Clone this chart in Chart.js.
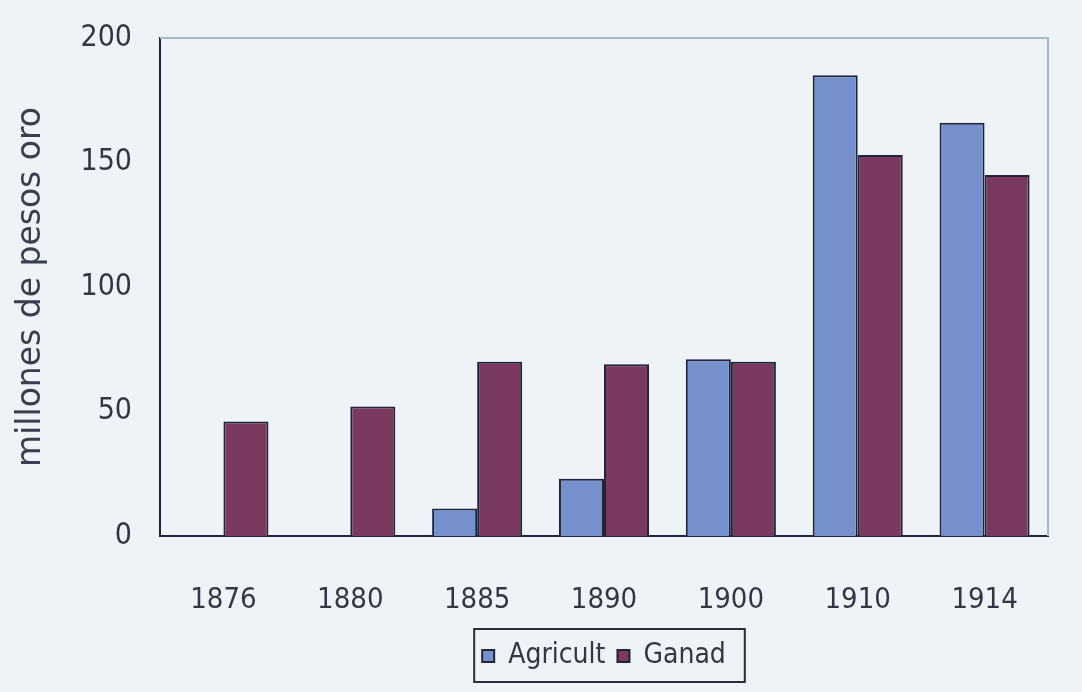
<!DOCTYPE html>
<html>
<head>
<meta charset="utf-8">
<script src="https://cdn.jsdelivr.net/npm/chart.js@4/dist/chart.umd.min.js"></script>
<style>
  html, body { margin: 0; padding: 0; background: #eef3f8; }
  #wrap { width: 1082px; height: 692px; position: relative; }
</style>
</head>
<body>
<div id="wrap"><canvas id="grafico"></canvas></div>
<script>
// datos
const anios = ['1876', '1880', '1885', '1890', '1900', '1910', '1914'];
const agricultura = [0, 0, 11, 23, 71, 185, 166];
const ganaderia = [46, 52, 70, 69, 70, 153, 145];
const ticksY = [0, 50, 100, 150, 200];

const fuenteEje = "'DejaVu Sans Condensed', 'Liberation Sans', sans-serif";
const colorTexto = '#323843';

// marco del area: arriba y derecha claros
const marco = {
    id: 'marco',
    beforeDatasetsDraw(chart) {
        const { ctx, chartArea: a } = chart;
        ctx.save();
        ctx.strokeStyle = '#aab5c8';
        ctx.lineWidth = 2;
        ctx.beginPath();
        ctx.moveTo(a.left, a.top);
        ctx.lineTo(a.right, a.top);
        ctx.lineTo(a.right, a.bottom);
        ctx.stroke();
        ctx.restore();
    }
};

// caja alrededor de la leyenda
const cajaLeyenda = {
    id: 'cajaLeyenda',
    afterDraw(chart) {
        const cajas = chart.legend.legendHitBoxes;
        if (!cajas || !cajas.length) return;
        const x0 = Math.min(...cajas.map(b => b.left)) - 8;
        const x1 = Math.max(...cajas.map(b => b.left + b.width)) + 19;
        const y0 = Math.min(...cajas.map(b => b.top)) - 13;
        const y1 = Math.max(...cajas.map(b => b.top + b.height)) + 12;
        const ctx = chart.ctx;
        ctx.save();
        ctx.strokeStyle = '#2a2e38';
        ctx.lineWidth = 2;
        ctx.strokeRect(x0, y0, x1 - x0, y1 - y0);
        ctx.restore();
    }
};

new Chart(document.getElementById('grafico'), {
    type: 'bar',
    data: {
        labels: anios,
        datasets: [
            {
                label: 'Agricult',
                data: agricultura,
                backgroundColor: '#7590cd',
                borderColor: '#1f2536',
                borderWidth: 2,
                borderSkipped: 'bottom'
            },
            {
                label: 'Ganad',
                data: ganaderia,
                backgroundColor: '#7a3a5f',
                borderColor: '#1f2536',
                borderWidth: 2,
                borderSkipped: 'bottom'
            }
        ]
    },
    options: {
        responsive: true,
        maintainAspectRatio: false,
        animation: false,
        layout: { padding: { left: 0, top: 19, right: 34, bottom: 12 } },
        datasets: { bar: { categoryPercentage: 0.71, barPercentage: 1.0 } },
        scales: {
            x: {
                grid: { display: false },
                border: { color: '#1f2536', width: 2 },
                ticks: { color: colorTexto, font: { family: fuenteEje, size: 29 }, padding: 39 },
                afterFit: (s) => { s.height = 94; }
            },
            y: {
                min: 0,
                max: 200,
                afterBuildTicks: (s) => { s.ticks = ticksY.map(v => ({ value: v })); },
                grid: { display: false },
                border: { color: '#1f2536', width: 2 },
                ticks: { color: colorTexto, font: { family: fuenteEje, size: 30 }, padding: 20 },
                title: {
                    display: true,
                    text: 'millones de pesos oro',
                    color: '#3a404b',
                    font: { family: "'DejaVu Sans', sans-serif", size: 33 },
                    padding: { top: 12, bottom: 10 }
                },
                afterFit: (s) => { s.width = 160; }
            }
        },
        plugins: {
            legend: {
                position: 'bottom',
                fullSize: false,
                labels: {
                    color: colorTexto,
                    font: { family: fuenteEje, size: 28 },
                    boxWidth: 12,
                    boxHeight: 12,
                    padding: 12
                }
            },
            tooltip: { enabled: false }
        }
    },
    plugins: [marco, cajaLeyenda]
});
</script>
</body>
</html>
